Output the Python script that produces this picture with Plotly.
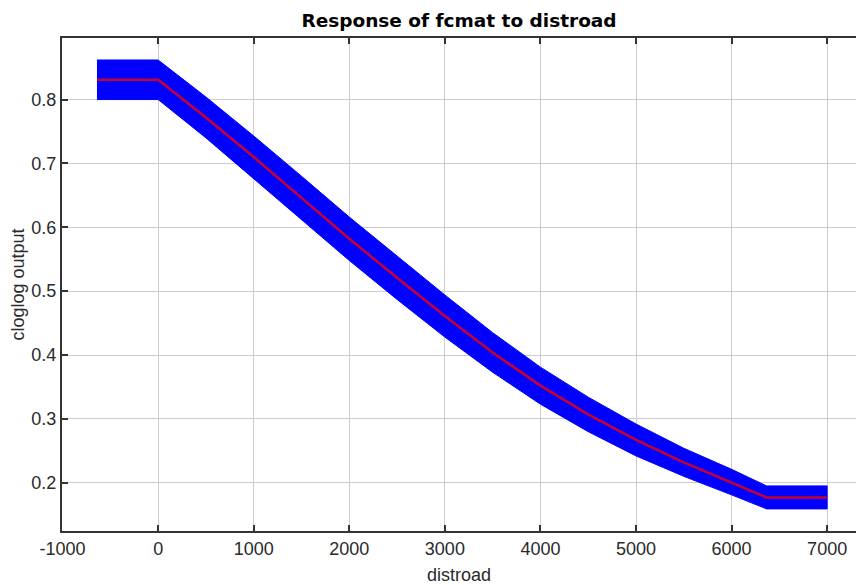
import plotly.graph_objects as go

# distroad values
x_vals = [-640, 0, 500, 1000, 1500, 2000, 2500, 3000, 3500, 4000, 4500, 5000, 5500, 6000, 6367, 7000]
# mean cloglog response
mean_vals = [0.831, 0.831, 0.772, 0.710, 0.646, 0.582, 0.521, 0.461, 0.404, 0.352, 0.307, 0.267, 0.232, 0.201, 0.177, 0.177]
# standard deviation of response
sd_vals = [0.031, 0.031, 0.032, 0.033, 0.034, 0.034, 0.034, 0.033, 0.031, 0.029, 0.027, 0.025, 0.022, 0.020, 0.018, 0.018]

x_ticks = [-1000, 0, 1000, 2000, 3000, 4000, 5000, 6000, 7000]
y_ticks = [0.2, 0.3, 0.4, 0.5, 0.6, 0.7, 0.8]

upper = [m + s for m, s in zip(mean_vals, sd_vals)]
lower = [m - s for m, s in zip(mean_vals, sd_vals)]

fig = go.Figure()
fig.add_trace(go.Scatter(
    x=x_vals + x_vals[::-1],
    y=upper + lower[::-1],
    fill="toself", fillcolor="rgb(0,0,255)",
    line=dict(color="rgb(0,0,255)", width=1),
    mode="lines", hoverinfo="skip", showlegend=False,
))
fig.add_trace(go.Scatter(
    x=x_vals, y=mean_vals, mode="lines",
    line=dict(color="rgb(200,0,50)", width=2.5),
    showlegend=False,
))

axis_font = dict(family="Liberation Sans, Arial, sans-serif", size=18, color="#2a2a2a")

fig.update_layout(
    width=856, height=585,
    margin=dict(l=62, r=0, t=38, b=54),
    paper_bgcolor="white", plot_bgcolor="white",
    title=dict(
        text="<b>Response of fcmat to distroad</b>",
        font=dict(family="DejaVu Sans, sans-serif", size=18.5, color="black"),
        x=0.5, xref="paper", xanchor="center",
        y=1 - 21 / 585, yref="container", yanchor="middle",
    ),
    xaxis=dict(
        range=[-1006, 7302],
        tickvals=x_ticks,
        ticktext=[str(v) for v in x_ticks],
        showgrid=True, gridcolor="rgb(205,205,205)", gridwidth=1.4,
        zeroline=False,
        showline=True, linecolor="#333", linewidth=2,
        mirror="ticks",
        ticks="inside", ticklen=6, tickwidth=2, tickcolor="#333",
        tickfont=axis_font,
        title=dict(text="distroad", font=axis_font, standoff=12),
    ),
    yaxis=dict(
        range=[0.1244, 0.8964],
        tickvals=y_ticks,
        ticktext=[f"{v:.1f}" for v in y_ticks],
        showgrid=True, gridcolor="rgb(205,205,205)", gridwidth=1.4,
        zeroline=False,
        showline=True, linecolor="#333", linewidth=2,
        ticks="inside", ticklen=6, tickwidth=2, tickcolor="#333",
        tickfont=axis_font,
        title=dict(text="cloglog output", font=axis_font, standoff=2),
    ),
)

fig.write_html("out.html")
